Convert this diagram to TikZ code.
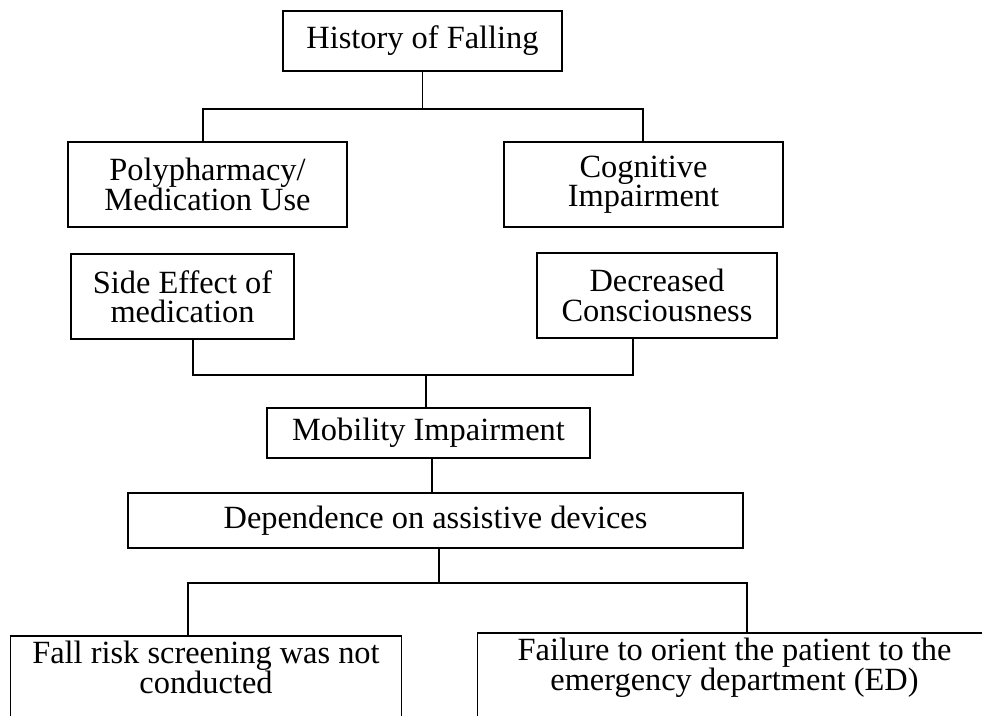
\documentclass[tikz,border=0pt]{standalone}
\usepackage{fontspec}
\setmainfont{Liberation Serif}
\begin{document}
\begin{tikzpicture}[x=1pt,y=-1pt,
  txt/.style={font=\fontsize{32.4}{29.5}\selectfont,align=center},
  box/.style={txt,draw,line width=1.2pt,inner sep=0pt},
  open/.style={txt,inner sep=0pt,anchor=north},
  link/.style={line width=1.1pt},
  edge/.style={line width=1.2pt}]
\clip (0,0) rectangle (982,715);
\fill[white] (0,0) rectangle (982,715);
% boxes
\node[box,minimum width=279pt,minimum height=60pt] (hist) at (422.5,41) {History of Falling};
\node[box,minimum width=279pt,minimum height=85pt] (poly) at (207.5,184.5) {Polypharmacy/\\Medication Use};
\node[box,minimum width=279pt,minimum height=85pt] (cog) at (643.5,184.5) {Cognitive\\Impairment};
\node[box,minimum width=223pt,minimum height=85pt] (side) at (182.5,296.5) {Side Effect of\\medication};
\node[box,minimum width=240pt,minimum height=85pt] (dec) at (657,295.5) {Decreased\\Consciousness};
\node[box,minimum width=323pt,minimum height=50pt] (mob) at (428.5,433) {Mobility Impairment};
\node[box,minimum width=615pt,minimum height=55pt] (dep) at (435.5,520.5) {Dependence on assistive devices};
\node[open,minimum width=390pt,inner ysep=5pt] (fall) at (206,636) {Fall risk screening was not\\conducted};
\node[open,minimum width=513pt,inner ysep=5pt] (fail) at (734.5,633) {Failure to orient the patient to the\\emergency department (ED)};
\coordinate (bottom) at (0,730);
\draw[edge] (fall.north west |- bottom) -- (fall.north west) -- (fall.north east) -- (fall.north east |- bottom);
\draw[edge] (fail.north west |- bottom) -- (fail.north west) -- (fail.north east) -- (fail.north east |- bottom);
% connectors level 1
\coordinate (b1l) at (203,109);
\coordinate (b1r) at (643,109);
\draw[link] (hist.south) -- (hist.south |- b1l);
\draw[link] (b1l |- poly.north) -- (b1l) -- (b1r) -- (b1r |- cog.north);
% connectors level 2
\coordinate (b2l) at (193,375);
\coordinate (b2r) at (633,375);
\coordinate (b2m) at (426,375);
\draw[link] (b2l |- side.south) -- (b2l) -- (b2r) -- (b2r |- dec.south);
\draw[link] (b2m) -- (b2m |- mob.north);
% mobility to dependence
\coordinate (md) at (432,0);
\draw[link] (md |- mob.south) -- (md |- dep.north);
% connectors level 3
\coordinate (b3l) at (188,583);
\coordinate (b3r) at (747,583);
\coordinate (b3m) at (439,583);
\draw[link] (b3m |- dep.south) -- (b3m);
\draw[link] (b3l |- fall.north) -- (b3l) -- (b3r) -- (b3r |- fail.north);
\end{tikzpicture}
\end{document}
